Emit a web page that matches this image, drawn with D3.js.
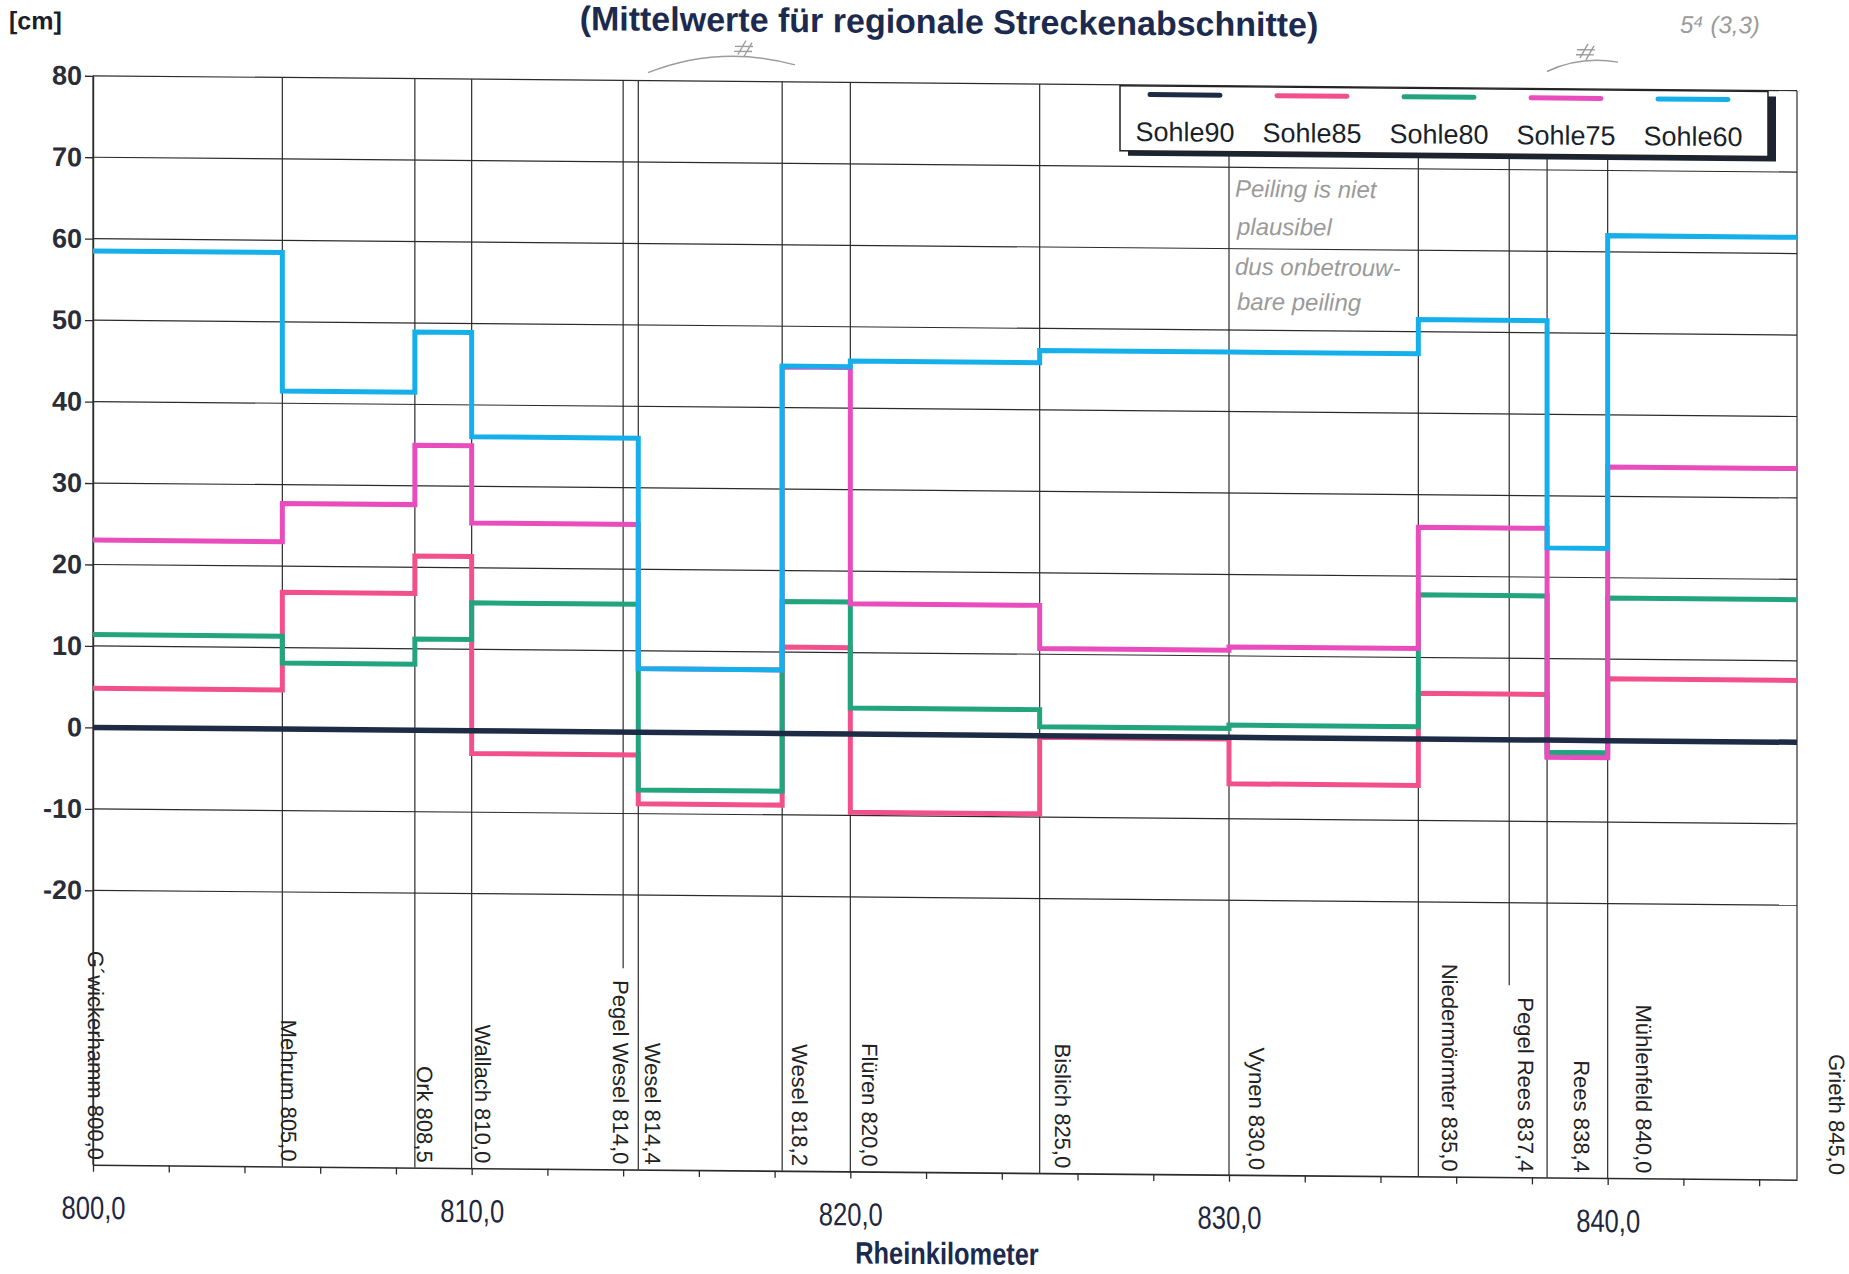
<!DOCTYPE html>
<html>
<head>
<meta charset="utf-8">
<script src="https://cdn.jsdelivr.net/npm/d3@7"></script>
<style>
  html, body { margin: 0; padding: 0; background: #fff; }
  svg { display: block; }
  text { font-family: "Liberation Sans", Arial, sans-serif; }
</style>
</head>
<body>
<svg id="chart" width="1849" height="1274"></svg>
<script>
// Stretch boundaries along the Rhine (Rheinkilometer); each value holds until the next start
const segmentStarts = [800, 805, 808.5, 810, 814.4, 818.2, 820, 825, 830, 835, 838.4, 840];
const segmentEnd = 845;

// Mean change per stretch in cm, one array per reference bed level
const sohle90 = [0, 0, 0, 0, 0, 0, 0, 0, 0, 0, 0, 0];
const sohle85 = [4.8, 16.8, 21.4, -2.8, -8.8, 10.6, -9.6, -0.2, -5.7, 5.6, -2.0, 7.6];
const sohle80 = [11.4, 8.1, 11.2, 15.7, -7.1, 16.2, 3.2, 1.1, 1.5, 17.7, -1.5, 17.5];
const sohle75 = [23.0, 27.7, 35.0, 25.5, 7.8, 45.0, 16.0, 10.7, 11.1, 26.0, -2.1, 33.6];
const sohle60 = [58.5, 41.5, 48.9, 36.1, 7.8, 45.1, 45.8, 47.3, 47.3, 51.5, 23.6, 62.0];

const seriesNames = ["Sohle90", "Sohle85", "Sohle80", "Sohle75", "Sohle60"];
const seriesValues = [sohle90, sohle85, sohle80, sohle75, sohle60];
const seriesColors = ["#1e2b45", "#f2508a", "#22a47e", "#e94cbd", "#15b0ea"];

// Stations marked along the river
const stationNames = ["G´wickerhamm", "Mehrum", "Ork", "Wallach", "Pegel Wesel", "Wesel", "Wesel",
  "Flüren", "Bislich", "Vynen", "Niedermörmter", "Pegel Rees", "Rees", "Mühlenfeld", "Grieth"];
const stationKm = [800, 805, 808.5, 810, 814, 814.4, 818.2, 820, 825, 830, 835, 837.4, 838.4, 840, 845];

const yTicks = [-20, -10, 0, 10, 20, 30, 40, 50, 60, 70, 80];
const xTicks = [800, 802, 804, 806, 808, 810, 812, 814, 816, 818, 820, 822, 824, 826, 828, 830,
  832, 834, 836, 838, 840, 842, 844];
const xLabelTicks = [800, 810, 820, 830, 840];

const de = d3.formatLocale({ decimal: ",", thousands: ".", grouping: [3], currency: ["", " €"] });
const fmtKm = de.format(".1f");

const svg = d3.select("#chart");
// the whole sheet sits slightly sheared, as on the scanned page
const sheet = svg.append("g").attr("transform", "skewY(0.5)");

const yMin = -53.7, yMax = 80;
const x = d3.scaleLinear().domain([800, segmentEnd]).range([93, 1797]);
const y = d3.scaleLinear().domain([yMin, yMax]).range([1164, 75]);
const ink = "#2b2b2b";

// horizontal grid
sheet.append("g").selectAll("line").data(yTicks).join("line")
  .attr("x1", x(800)).attr("x2", x(segmentEnd))
  .attr("y1", d => y(d)).attr("y2", d => y(d))
  .attr("stroke", ink).attr("stroke-width", 1.2);

// station lines and rotated station labels
const stations = stationNames.map((n, i) => ({ name: n, km: stationKm[i], gauge: n.startsWith("Pegel") }));
const labelBottom = y(yMin) - 5;
const labelX = s => x(s.km) + 0.022 * (x(s.km) - x(800)) + 2 - (s.gauge ? 17 : 0);

const stLines = sheet.append("g").selectAll("line").data(stations).join("line")
  .attr("x1", s => x(s.km)).attr("x2", s => x(s.km))
  .attr("y1", y(yMax)).attr("y2", y(yMin))
  .attr("stroke", ink).attr("stroke-width", 1.2);

const stLabels = sheet.append("g").selectAll("text").data(stations).join("text")
  .attr("transform", s => `translate(${labelX(s)},${labelBottom}) rotate(90)`)
  .attr("text-anchor", "end")
  .attr("dy", "0.32em")
  .attr("font-size", 22)
  .attr("fill", "#222")
  .text(s => `${s.name} ${fmtKm(s.km)}`);

// gauge lines stop above their labels
stLabels.each(function (s) { s.len = this.getComputedTextLength(); });
stLines.filter(s => s.gauge).attr("y2", s => labelBottom - s.len - 12);

// x axis
const xAxis = d3.axisBottom(x).tickValues(xTicks).tickSize(7).tickSizeOuter(0)
  .tickFormat(d => xLabelTicks.includes(d) ? fmtKm(d) : "");
const gx = sheet.append("g").attr("transform", `translate(0,${y(yMin)})`).call(xAxis);
gx.select(".domain").attr("stroke", ink).attr("stroke-width", 1.6);
gx.selectAll(".tick line").attr("stroke", ink).attr("stroke-width", 1.3);
gx.selectAll(".tick text")
  .attr("y", 54).attr("dy", 0)
  .attr("transform", "scale(0.8,1)")
  .attr("font-size", 32).attr("fill", "#1f2740");

// y axis
const yAxis = d3.axisLeft(y).tickValues(yTicks).tickSize(8).tickSizeOuter(0).tickFormat(d => String(d));
const gy = sheet.append("g").attr("transform", `translate(${x(800)},0)`).call(yAxis);
gy.select(".domain").attr("stroke", ink).attr("stroke-width", 1.4);
gy.selectAll(".tick line").attr("stroke", ink).attr("stroke-width", 1.3);
gy.selectAll(".tick text").attr("x", -11).attr("font-size", 27).attr("font-weight", "bold")
  .attr("fill", "#2a2d38");

// step lines for each bed level; Sohle90 is drawn last so it stays on top
const line = d3.line().x(d => x(d[0])).y(d => y(d[1])).curve(d3.curveStepAfter);
const series = seriesNames.map((name, i) => ({
  name, color: seriesColors[i],
  points: segmentStarts.map((k, j) => [k, seriesValues[i][j]])
    .concat([[segmentEnd, seriesValues[i][seriesValues[i].length - 1]]])
}));
const drawOrder = [1, 2, 3, 4, 0];
sheet.append("g").selectAll("path").data(drawOrder.map(i => series[i])).join("path")
  .attr("d", s => line(s.points))
  .attr("fill", "none")
  .attr("stroke", s => s.color)
  .attr("stroke-width", s => s.name === "Sohle90" ? 5.5 : 5)
  .attr("stroke-linejoin", "miter");

// legend with drop shadow
const lg = sheet.append("g");
const lgX = 1120, lgY = 76, lgW = 648, lgH = 65;
lg.append("rect").attr("x", lgX + 8).attr("y", lgY + 5).attr("width", lgW).attr("height", lgH).attr("fill", "#1c2433");
lg.append("rect").attr("x", lgX).attr("y", lgY).attr("width", lgW).attr("height", lgH)
  .attr("fill", "#fff").attr("stroke", "#222").attr("stroke-width", 1.5);
const item = lg.selectAll("g.item").data(series).join("g").attr("class", "item")
  .attr("transform", (s, i) => `translate(${1185 + i * 127},0)`);
item.append("line").attr("x1", -35).attr("x2", 35).attr("y1", lgY + 8.5).attr("y2", lgY + 8.5)
  .attr("stroke", s => s.color).attr("stroke-width", 5).attr("stroke-linecap", "round");
item.append("text").attr("y", lgY + 55).attr("text-anchor", "middle").attr("font-size", 27)
  .attr("fill", "#1b1f2a").text(s => s.name);

// titles
sheet.append("text").attr("x", 949).attr("y", 25).attr("text-anchor", "middle")
  .attr("font-size", 34).attr("font-weight", "bold").attr("fill", "#1b2a4e")
  .text("(Mittelwerte für regionale Streckenabschnitte)");
sheet.append("text").attr("x", 9).attr("y", 29).attr("font-size", 25).attr("font-weight", "bold")
  .attr("fill", "#1a1d2a").text("[cm]");
sheet.append("text").attr("transform", "translate(947,1256) scale(0.82,1)").attr("text-anchor", "middle")
  .attr("font-size", 31).attr("font-weight", "bold").attr("fill", "#1b2a4e").text("Rheinkilometer");

// pencil notes on the sheet
const pencil = sheet.append("g").attr("fill", "none").attr("stroke", "#9c9c9c").attr("stroke-width", 1.4);
pencil.append("path").attr("d", "M648,67 Q720,38 795,58");
pencil.append("path").attr("d", "M1547,58 Q1580,42 1618,48");
pencil.append("path").attr("d", "M738,48 l8,-14 M744,50 l8,-14 M735,40 l18,0 M734,45 l18,0");
pencil.append("path").attr("d", "M1580,44 l8,-14 M1586,46 l8,-14 M1577,36 l18,0 M1576,41 l18,0");
const notes = sheet.append("g").attr("fill", "#9a9a9a").attr("font-family", "DejaVu Sans")
  .attr("font-style", "italic").attr("font-size", 24);
notes.append("text").attr("x", 1235).attr("y", 186).text("Peiling is niet");
notes.append("text").attr("x", 1237).attr("y", 224).text("plausibel");
notes.append("text").attr("x", 1235).attr("y", 264).text("dus onbetrouw-");
notes.append("text").attr("x", 1237).attr("y", 299).text("bare peiling");
notes.append("text").attr("x", 1680).attr("y", 18).text("5⁴ (3,3)");
</script>
</body>
</html>
